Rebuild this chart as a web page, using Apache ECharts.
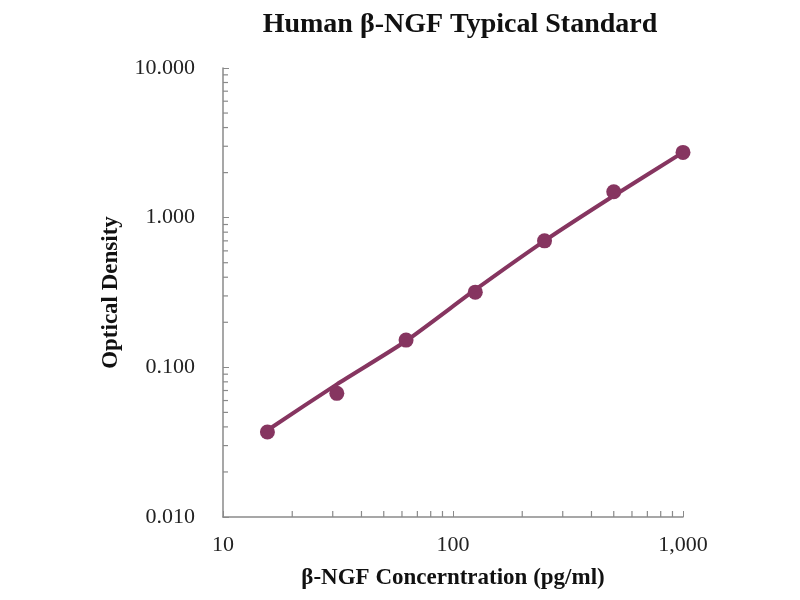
<!DOCTYPE html>
<html>
<head>
<meta charset="utf-8">
<script src="https://cdn.jsdelivr.net/npm/echarts@6/dist/echarts.min.js"></script>
<style>
  html, body { margin: 0; padding: 0; background: #fff; }
  #chart { width: 800px; height: 600px; }
</style>
</head>
<body>
<div id="chart"></div>
<script>
// standard concentrations (pg/ml)
var concentrations = [15.6, 31.25, 62.5, 125, 250, 500, 1000];
// measured optical density
var measuredOD = [0.037, 0.067, 0.152, 0.318, 0.70, 1.49, 2.73];
// fitted curve values at the same concentrations
var fittedOD = [0.038, 0.077, 0.150, 0.330, 0.700, 1.40, 2.73];

// axis ranges and tick values
var xMin = 10, xMax = 1000;
var yMin = 0.01, yMax = 10;
var xMinorTicks = [20, 30, 40, 50, 60, 70, 80, 90, 200, 300, 400, 500, 600, 700, 800, 900];
var yMinorTicks = [0.02, 0.03, 0.04, 0.05, 0.06, 0.07, 0.08, 0.09,
                   0.2, 0.3, 0.4, 0.5, 0.6, 0.7, 0.8, 0.9,
                   2, 3, 4, 5, 6, 7, 8, 9];

var serif = '"Liberation Serif", "DejaVu Serif", serif';
var lineColor = '#863560';
var axisColor = '#8a8a8a';

function chart() {
	var dom = document.getElementById("chart");
	var myChart = echarts.init(dom);

	var pairs = function (ys) {
		return concentrations.map(function (x, i) { return [x, ys[i]]; });
	};

	var option = {
		backgroundColor: '#fff',
		animation: false,
		title: {
			text: 'Human β-NGF Typical Standard',
			left: 455,
			textAlign: 'center',
			top: 6,
			textStyle: { fontFamily: serif, fontWeight: 'bold', fontSize: 28, color: '#111' }
		},
		grid: { left: 223, right: 117, top: 68, bottom: 83 },
		xAxis: {
			type: 'log',
			logBase: 10,
			min: xMin,
			max: xMax,
			name: 'β-NGF Concerntration (pg/ml)',
			nameLocation: 'middle',
			nameGap: 50,
			nameTextStyle: { fontFamily: serif, fontWeight: 'bold', fontSize: 23, color: '#111' },
			axisLine: { lineStyle: { color: axisColor, width: 1.5 } },
			axisTick: { inside: true, length: 6, lineStyle: { color: axisColor } },
			axisLabel: {
				fontFamily: serif, fontSize: 22, color: '#222', margin: 17,
				formatter: function (v) { return v >= 1000 ? '1,000' : String(v); }
			},
			splitLine: { show: false }
		},
		yAxis: {
			type: 'log',
			logBase: 10,
			min: yMin,
			max: yMax,
			name: 'Optical Density',
			nameLocation: 'middle',
			nameGap: 100,
			nameTextStyle: { fontFamily: serif, fontWeight: 'bold', fontSize: 23, color: '#111' },
			axisLine: { show: true, lineStyle: { color: axisColor, width: 1.5 } },
			axisTick: { show: true, inside: true, length: 6, lineStyle: { color: axisColor } },
			axisLabel: {
				fontFamily: serif, fontSize: 22, color: '#222', margin: 28,
				formatter: function (v) { return Number(v).toFixed(3); }
			},
			splitLine: { show: false }
		},
		series: [
			{
				// x-axis minor ticks (log spaced)
				type: 'scatter',
				silent: true,
				clip: false,
				z: 1,
				symbol: 'rect',
				symbolSize: [1.2, 6],
				symbolOffset: [0, -3],
				itemStyle: { color: axisColor, opacity: 1 },
				data: xMinorTicks.map(function (v) { return [v, yMin]; })
			},
			{
				// y-axis minor ticks (log spaced)
				type: 'scatter',
				silent: true,
				clip: false,
				z: 1,
				symbol: 'rect',
				symbolSize: [5, 1.2],
				symbolOffset: [2.5, 0],
				itemStyle: { color: axisColor, opacity: 1 },
				data: yMinorTicks.map(function (v) { return [xMin, v]; })
			},
			{
				name: 'Fit',
				type: 'line',
				smooth: 0.2,
				showSymbol: false,
				lineStyle: { color: lineColor, width: 4 },
				data: pairs(fittedOD)
			},
			{
				name: 'OD',
				type: 'scatter',
				symbol: 'circle',
				symbolSize: 15,
				itemStyle: { color: lineColor, opacity: 1 },
				data: pairs(measuredOD)
			}
		]
	};
	myChart.setOption(option, true);
}

chart();
</script>
</body>
</html>
